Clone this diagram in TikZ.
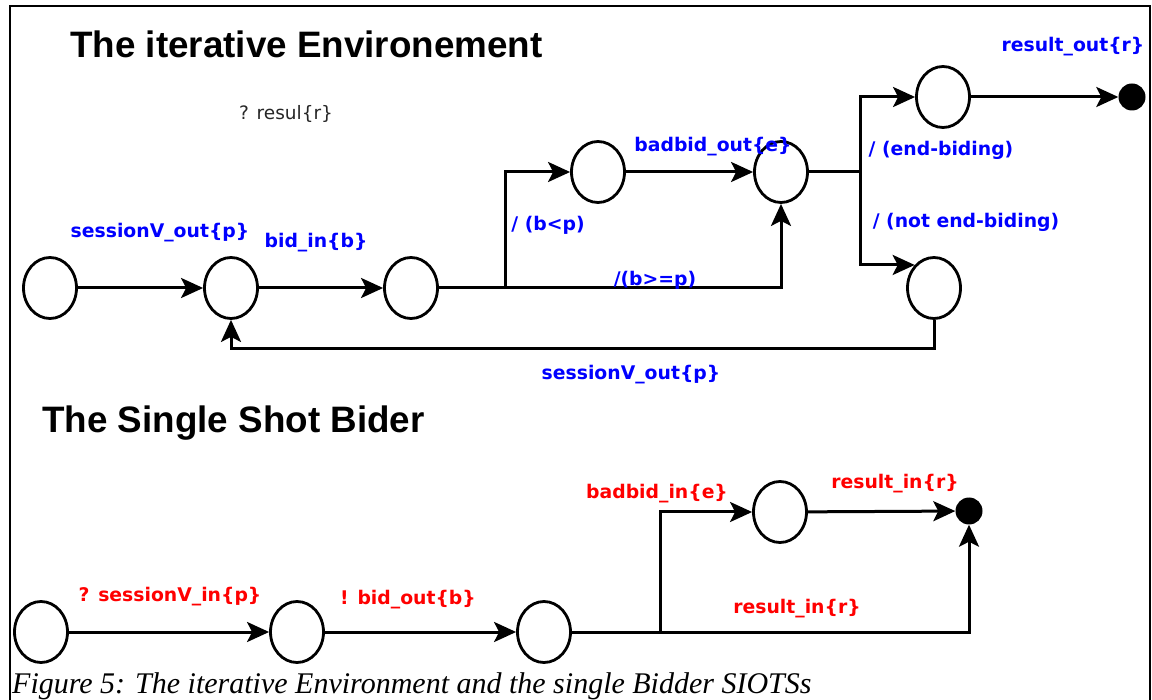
\documentclass[tikz,border=0pt]{standalone}
\usepackage{fontspec}
\setmainfont{Liberation Serif}
\newfontfamily\lblfont{DejaVu Sans}
\newfontfamily\ttlfont{Liberation Sans}
\usetikzlibrary{arrows.meta,shapes.geometric}

\begin{document}
\begin{tikzpicture}[x=1pt,y=-1pt,
  state/.style={ellipse,draw,line width=2.8pt,minimum width=53pt,minimum height=61pt,inner sep=0pt},
  final/.style={circle,fill=black,minimum size=27pt,inner sep=0pt},
  tr/.style={line width=3pt,-{Stealth[length=22pt,width=20pt,inset=5pt]}},
  lbl/.style={font=\lblfont\bfseries\fontsize{18.8}{22}\selectfont,inner sep=0pt},
  outlbl/.style={lbl,text=blue},
  inlbl/.style={lbl,text=red},
  guard/.style={font=\lblfont\fontsize{18.5}{22}\selectfont,inner sep=0pt,text=black!85},
  title/.style={font=\ttlfont\bfseries\fontsize{36.8}{40}\selectfont,inner sep=0pt,anchor=base west},
  caption/.style={font=\itshape\fontsize{30}{33}\selectfont,inner sep=0pt,anchor=base west},
]
\useasboundingbox (0,0) rectangle (1152,700);

% frame
\draw[line width=2.4pt] (10,700) -- (10,6) -- (1150,6) -- (1150,700);

% titles
\node[title] (ttl1) at (70,58) {The iterative Environement};
\node[title] (ttl2) at (42,433) {The Single Shot Bider};

% ---------- iterative environment ----------
\node[state] (a1) at (50,288) {};
\node[state] (a2) at (231,288) {};
\node[state] (a3) at (411,288) {};
\node[state] (a4) at (598,172) {};
\node[state] (a5) at (781,172) {};
\node[state] (a6) at (943,97) {};
\node[state] (a7) at (934,288) {};
\node[final] (a8) at (1132,97) {};

\coordinate (j1) at (505,288);
\coordinate (j2) at (860,172);
\coordinate (lp) at (0,349);

\draw[tr] (a1) -- (a2);
\draw[tr] (a2) -- (a3);
\draw[tr] (a3.east) -- (j1) |- (a4);
\draw[tr] (j1) -- (a5.south |- j1) -- (a5.south);
\draw[tr] (a4) -- (a5);
\draw[tr] (a5.east) -- (j2) |- (a6);
\draw[tr] (j2) |- (a7.130);
\draw[tr] (a6) -- (a8);
\draw[tr] (a7.south) -- (a7.south |- lp) -- (a2.south |- lp) -- (a2.south);

\node[guard] (g1) at (286,114) {? resul\{r\}};
\node[outlbl] (l1) at (160,233) {sessionV\_out\{p\}};
\node[outlbl] (l2) at (316,243) {bid\_in\{b\}};
\node[outlbl] (l3) at (548,225) {/ (b<p)};
\node[outlbl] (l4) at (713,147) {badbid\_out\{e\}};
\node[outlbl] (l5) at (655,280) {/(b>=p)};
\node[outlbl] (l6) at (941,150) {/ (end-biding)};
\node[outlbl] (l7) at (966,222) {/ (not end-biding)};
\node[outlbl] (l8) at (1073,47) {result\_out\{r\}};
\node[outlbl] (l9) at (631,375) {sessionV\_out\{p\}};

% ---------- single shot bidder ----------
\node[state] (b1) at (41,632) {};
\node[state] (b2) at (297,632) {};
\node[state] (b3) at (544,632) {};
\node[state] (b4) at (780,512) {};
\node[final] (b5) at (969,511) {};

\coordinate (j3) at (660,632);

\draw[tr] (b1) -- (b2);
\draw[tr] (b2) -- (b3);
\draw[tr] (b3.east) -- (j3) |- (b4);
\draw[tr] (j3) -- (b5.south |- j3) -- (b5.south);
\draw[tr] (b4) -- (b5);

\node[inlbl] (m1) at (170,597) {? sessionV\_in\{p\}};
\node[inlbl] (m2) at (408,600) {! bid\_out\{b\}};
\node[inlbl] (m3) at (657,494) {badbid\_in\{e\}};
\node[inlbl] (m4) at (895,484) {result\_in\{r\}};
\node[inlbl] (m5) at (797,609) {result\_in\{r\}};

% caption
\node[caption] (cap) at (12,693) {Figure 5: The iterative Environment and the single Bidder SIOTSs};
\end{tikzpicture}
\end{document}
